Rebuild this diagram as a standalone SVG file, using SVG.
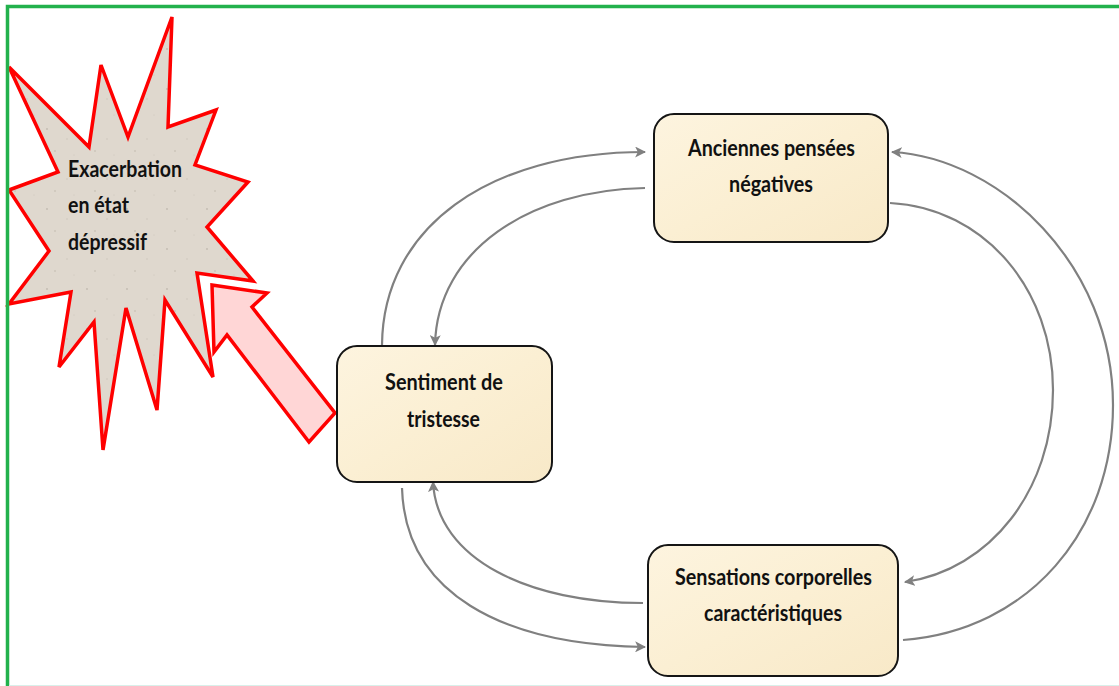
<svg xmlns="http://www.w3.org/2000/svg" width="1119" height="686" viewBox="0 0 1119 686">
<defs>
<style>
.box{fill:url(#parch);stroke:#151515;stroke-width:2}
.lbl{font-family:Lato,"Open Sans","Liberation Sans",sans-serif;font-weight:bold;font-size:23px;fill:#111}
.con{fill:none;stroke:#808080;stroke-width:2.2;marker-end:url(#ah)}
</style>
<linearGradient id="parch" x1="0" y1="0" x2="1" y2="1">
<stop offset="0" stop-color="#fdf4df"/>
<stop offset="0.5" stop-color="#fbefd3"/>
<stop offset="1" stop-color="#f8e9c8"/>
</linearGradient>
<pattern id="speck" width="40" height="40" patternUnits="userSpaceOnUse">
<rect width="40" height="40" fill="#dfd8ce"/>
<circle cx="7" cy="9" r="0.9" fill="#c2bab0"/>
<circle cx="27" cy="19" r="0.7" fill="#cbc3b9"/>
<circle cx="15" cy="31" r="0.8" fill="#c0b8ad"/>
<circle cx="34" cy="35" r="0.6" fill="#cdc5bb"/>
</pattern>
<marker id="ah" viewBox="0 0 10 10" refX="9" refY="5" markerWidth="11" markerHeight="11" markerUnits="userSpaceOnUse" orient="auto">
<path d="M0,0 L10,5 L0,10 L2.5,5 z" fill="#808080"/>
</marker>
</defs>
<rect width="1119" height="686" fill="#ffffff"/>

<g id="burst">
<polygon points="172,17 168,127 216,110 195,165 248,182 207,227 253,281 197,273 213,377 165,300 157,410 126,308 103,450 94,322 59,367 71,292 9,304 49,251 9,190 58,172 9,67 89,147 101,65 128,137" fill="url(#speck)" stroke="#ff0000" stroke-width="3.5" stroke-linejoin="miter"/>
<text class="lbl" x="68" y="177" textLength="114" lengthAdjust="spacingAndGlyphs">Exacerbation</text>
<text class="lbl" x="68" y="213" textLength="61" lengthAdjust="spacingAndGlyphs">en état</text>
<text class="lbl" x="68" y="250" textLength="79" lengthAdjust="spacingAndGlyphs">dépressif</text>
</g>

<g id="bigarrow">
<polygon points="212,285 267,293 252,307 335,413 309,442 227,335 214,352" fill="#ffd6d6" stroke="#ff0000" stroke-width="3.5" stroke-linejoin="miter"/>
</g>

<g id="connectors">
<path class="con" d="M382,345 C383,228 488,152 645,152"/>
<path class="con" d="M645,188 C530,190 437,250 435,345"/>
<path class="con" d="M402,488 C405,592 500,645 645,647"/>
<path class="con" d="M643,603 C530,603 437,560 433,482"/>
<path class="con" d="M890,203 C985,208 1053,290 1053,390 C1053,490 990,570 905,582"/>
<path class="con" d="M903,640 C1030,630 1113,530 1113,405 C1113,265 1000,158 892,152"/>
</g>

<g id="n-anciennes">
<rect class="box" x="654" y="114" width="234" height="128" rx="20"/>
<text class="lbl" x="688" y="156" textLength="167" lengthAdjust="spacingAndGlyphs">Anciennes pensées</text>
<text class="lbl" x="729" y="192" textLength="84" lengthAdjust="spacingAndGlyphs">négatives</text>
</g>

<g id="n-sentiment">
<rect class="box" x="337" y="346" width="215" height="136" rx="20"/>
<text class="lbl" x="385" y="390" textLength="118" lengthAdjust="spacingAndGlyphs">Sentiment de</text>
<text class="lbl" x="407" y="427" textLength="73" lengthAdjust="spacingAndGlyphs">tristesse</text>
</g>

<g id="n-sensations">
<rect class="box" x="648" y="545" width="250" height="131" rx="20"/>
<text class="lbl" x="675" y="585" textLength="197" lengthAdjust="spacingAndGlyphs">Sensations corporelles</text>
<text class="lbl" x="704" y="621" textLength="138" lengthAdjust="spacingAndGlyphs">caractéristiques</text>
</g>

<g id="frame">
<path d="M7.5,686 V6.5 H1119" fill="none" stroke="#22b14c" stroke-width="3.5"/>
<line x1="9" y1="685.5" x2="1119" y2="685.5" stroke="#d9f0ea" stroke-width="1"/>
</g>
</svg>
